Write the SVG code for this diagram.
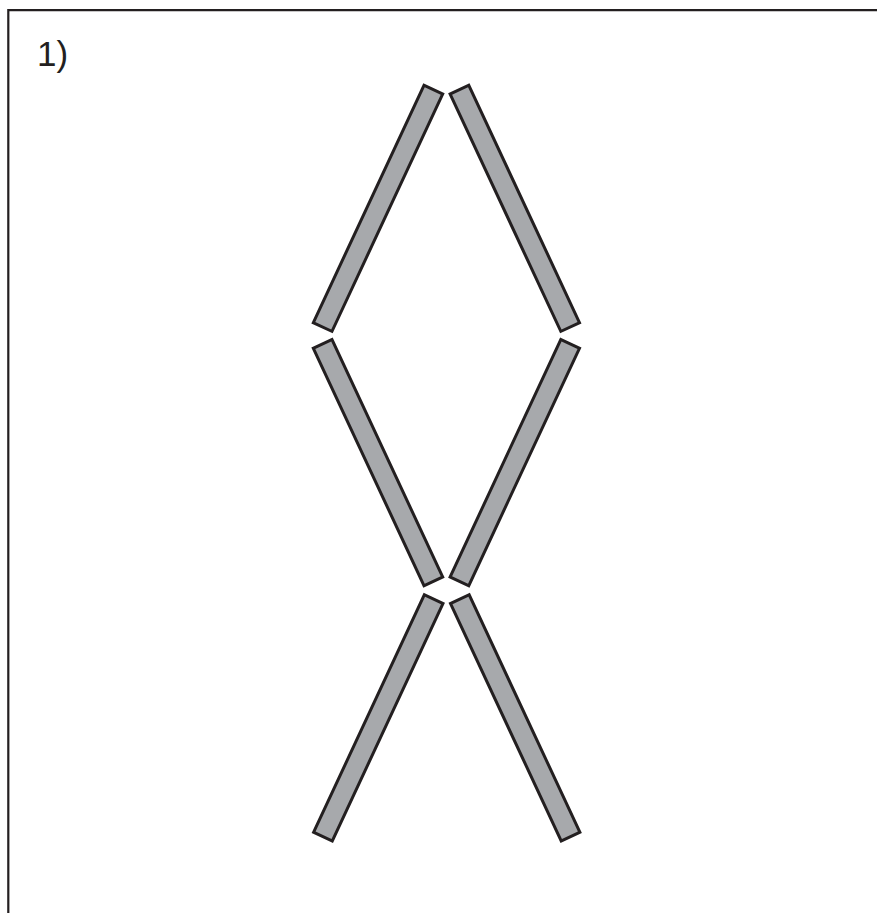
<svg xmlns="http://www.w3.org/2000/svg" width="877" height="913" viewBox="0 0 877 913">
<style>
.bar{fill:#a7a9ac;stroke:#231f20;stroke-width:3;stroke-linejoin:miter}
.frame{fill:none;stroke:#231f20;stroke-width:2.2}
.lbl{font-family:"Liberation Sans",Arial,sans-serif;font-size:35px;fill:#231f20}
</style>
<defs>
<rect id="b" x="-10.3" y="-131" width="20.6" height="262"/>
</defs>
<rect width="877" height="913" fill="#ffffff"/>
<path class="frame" d="M8.3,913 V10.2 H877"/>
<text class="lbl" x="37" y="66">1)</text>
<g id="bars">
<g id="bar-upper-left"><use href="#b" class="bar" transform="translate(378,208.3) rotate(25)"/></g>
<g id="bar-upper-right"><use href="#b" class="bar" transform="translate(514.8,208.3) rotate(-25)"/></g>
<g id="bar-middle-left"><use href="#b" class="bar" transform="translate(378,462.6) rotate(-25)"/></g>
<g id="bar-middle-right"><use href="#b" class="bar" transform="translate(514.8,462.6) rotate(25)"/></g>
<g id="bar-lower-left"><use href="#b" class="bar" transform="translate(378.3,717.9) rotate(25)"/></g>
<g id="bar-lower-right"><use href="#b" class="bar" transform="translate(515.2,717.9) rotate(-25)"/></g>
</g>
</svg>
